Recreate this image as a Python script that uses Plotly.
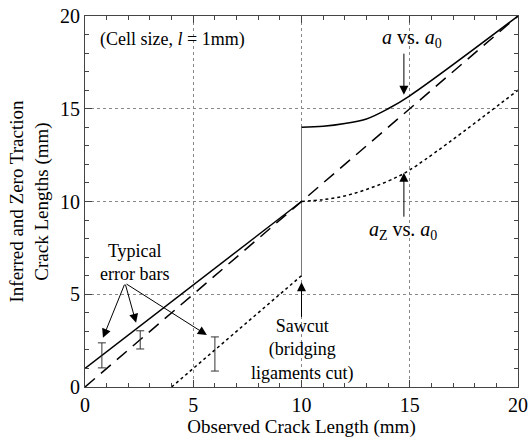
import plotly.graph_objects as go

# Data
a_x = [0, 10, 10, 11, 12, 13, 14, 15, 20]
a_y = [1, 10, 14, 14.05, 14.2, 14.45, 15.0, 15.7, 20]
az_x = [4, 10, 10, 11, 12, 13, 14, 15, 20]
az_y = [0, 6, 10, 10.1, 10.3, 10.65, 11.1, 11.7, 16]
eq_x = [0, 20]
eq_y = [0, 20]
saw_x = [10, 10]
saw_y = [6, 14]
err_x = [0.78, 2.55, 6.0]
err_lo = [1.03, 2.05, 0.86]
err_hi = [2.38, 3.03, 2.7]

FONT = "Liberation Serif"

fig = go.Figure()
fig.add_trace(go.Scatter(x=saw_x, y=saw_y, mode="lines",
                         line=dict(color="#777777", width=1), showlegend=False))
fig.add_trace(go.Scatter(x=eq_x, y=eq_y, mode="lines",
                         line=dict(color="black", width=1.5, dash="13px,8px"), showlegend=False))
fig.add_trace(go.Scatter(x=a_x[:2], y=a_y[:2], mode="lines",
                         line=dict(color="black", width=1.5), showlegend=False))
fig.add_trace(go.Scatter(x=a_x[2:], y=a_y[2:], mode="lines", line_shape="spline",
                         line=dict(color="black", width=1.5), showlegend=False))
fig.add_trace(go.Scatter(x=az_x[:2], y=az_y[:2], mode="lines",
                         line=dict(color="black", width=1.5, dash="dot"), showlegend=False))
fig.add_trace(go.Scatter(x=az_x[2:], y=az_y[2:], mode="lines", line_shape="spline",
                         line=dict(color="black", width=1.5, dash="dot"), showlegend=False))
mid = [(l + h) / 2 for l, h in zip(err_lo, err_hi)]
half = [(h - l) / 2 for l, h in zip(err_lo, err_hi)]
fig.add_trace(go.Scatter(x=err_x, y=mid, mode="markers",
                         marker=dict(size=0.1, color="rgba(0,0,0,0)"),
                         error_y=dict(type="data", array=half, color="#333333", thickness=1, width=4),
                         showlegend=False))

ann = []
def arrow(x, y, ax, ay):
    ann.append(dict(x=x, y=y, ax=ax, ay=ay, xref="x", yref="y", axref="x", ayref="y",
                    text="", showarrow=True, arrowhead=2, arrowsize=1.8, arrowwidth=1,
                    arrowcolor="black"))

for tx, ty in [(0.83, 2.65), (2.36, 3.46), (5.63, 2.8)]:
    arrow(tx, ty, 1.85, 5.6)
arrow(14.73, 15.75, 14.73, 18.05)
arrow(14.73, 11.55, 14.73, 9.1)
arrow(10, 5.65, 10, 3.7)

def text(x, y, t, anchor="center", size=18):
    ann.append(dict(x=x, y=y, xref="x", yref="y", text=t, showarrow=False,
                    xanchor=anchor, yanchor="middle",
                    font=dict(family=FONT, size=size, color="black")))

text(0.6, 18.75, "(Cell size, <i>l</i> = 1mm)", "left")
text(2.3, 6.7, "Typical<br>error bars")
text(15.1, 18.8, "<i>a</i> vs. <i>a</i><sub>0</sub>", size=20)
text(14.7, 8.45, "<i>a</i><sub>Z</sub> vs. <i>a</i><sub>0</sub>", size=20)
text(10, 2.0, "Sawcut<br>(bridging<br>ligaments cut)")
fig.update_layout(annotations=ann)

axis_common = dict(range=[0, 20], tickvals=[0, 5, 10, 15, 20], ticks="inside", ticklen=7,
                   tickcolor="#444", showline=True, linecolor="#444", linewidth=1,
                   mirror="allticks", showgrid=True, gridcolor="#888", griddash="dot",
                   gridwidth=1, zeroline=False, automargin=False,
                   minor=dict(dtick=1, ticks="inside", ticklen=4, tickcolor="#444", showgrid=False),
                   tickfont=dict(family=FONT, size=20, color="black"))

fig.update_xaxes(**axis_common,
                 title=dict(text="Observed Crack Length (mm)", standoff=2,
                            font=dict(family=FONT, size=19, color="black")))
fig.update_yaxes(**axis_common,
                 title=dict(text="Inferred and Zero Traction<br>Crack Lengths (mm)", standoff=6,
                            font=dict(family=FONT, size=19, color="black")))

fig.update_layout(width=531, height=439, margin=dict(l=85, r=13, t=16, b=52),
                  plot_bgcolor="white", paper_bgcolor="white", showlegend=False,
                  font=dict(family=FONT))

fig.write_html("out.html")
